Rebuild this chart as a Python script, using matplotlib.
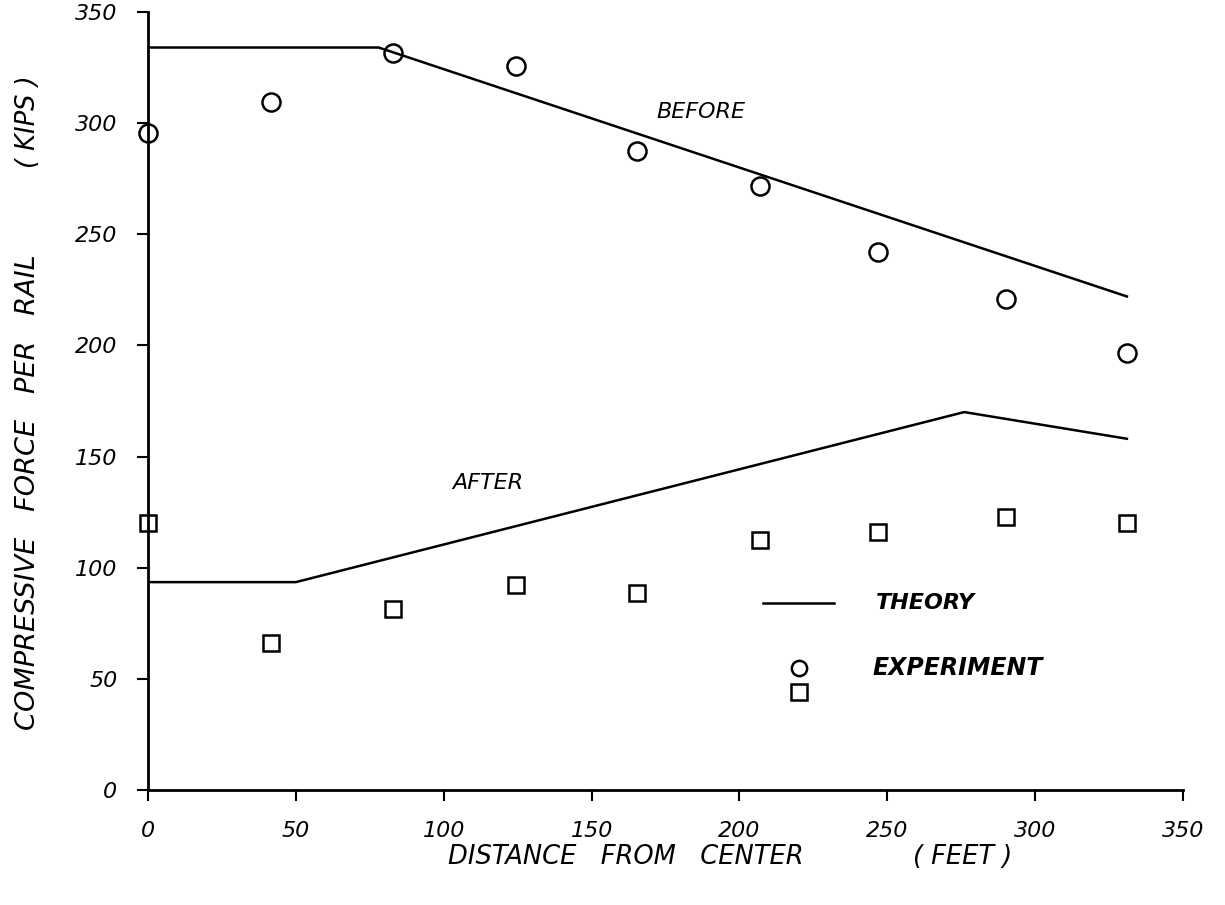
import matplotlib
matplotlib.use("Agg")
import matplotlib.pyplot as plt

# theory curves (kips vs feet from center)
before_theory_x = [0, 78, 331]
before_theory_y = [334, 334, 222]
after_theory_x = [0, 50, 276, 331]
after_theory_y = [93.5, 93.5, 170, 158]

# measured values
exp_x = [0, 41.5, 83, 124.5, 165.5, 207, 247, 290, 331]
before_exp = [295.5, 309.5, 331.5, 325.5, 287.5, 271.5, 242, 221, 196.5]
after_exp = [120, 66, 81.5, 92, 88.5, 112.5, 116, 123, 120]

x_ticks = [0, 50, 100, 150, 200, 250, 300, 350]
y_ticks = [0, 50, 100, 150, 200, 250, 300, 350]

plt.rcParams['font.family'] = ['DejaVu Sans']
font = dict(fontsize=16, fontstyle='italic', color='black')
big = dict(fontsize=18.5, fontstyle='italic', color='black')

fig = plt.figure(figsize=(12.25, 9.05), dpi=100)
ax = fig.add_axes([0.1208, 0.1271, 0.845, 0.8597])

ax.plot(before_theory_x, before_theory_y, color='black', lw=1.8)
ax.plot(after_theory_x, after_theory_y, color='black', lw=1.8)
ax.plot(exp_x, before_exp, 'o', ms=13, mfc='none', mec='black', mew=1.8,
        clip_on=False)
ax.plot(exp_x, after_exp, 's', ms=12, mfc='none', mec='black', mew=1.8,
        clip_on=False)

ax.set_xlim(0, 350)
ax.set_ylim(0, 350)
for side in ['top', 'right']:
    ax.spines[side].set_visible(False)
for side in ['left', 'bottom']:
    ax.spines[side].set_linewidth(2)
ax.set_xticks(x_ticks)
ax.set_yticks(y_ticks)
ax.set_xticklabels([str(v) for v in x_ticks], **font)
ax.set_yticklabels([str(v) for v in y_ticks], **font)
ax.tick_params(axis='both', direction='out', length=8, width=1.5)
ax.tick_params(axis='x', pad=14)
ax.tick_params(axis='y', pad=14)

# curve labels
ax.text(187, 305, 'BEFORE', ha='center', va='center', **font)
ax.text(115, 138, 'AFTER', ha='center', va='center', **font)

# hand drawn key
ax.plot([208, 232], [84, 84], color='black', lw=1.8)
ax.text(246, 84, 'THEORY', ha='left', va='center', fontweight='bold',
        **font)
ax.plot([220], [55], 'o', ms=11, mfc='none', mec='black', mew=1.8)
ax.plot([220], [44], 's', ms=11, mfc='none', mec='black', mew=1.8)
ax.text(245, 55, 'EXPERIMENT', ha='left', va='center', fontweight='bold',
        fontsize=17, fontstyle='italic', color='black')

# axis titles
fig.text(0.023, 0.456, 'COMPRESSIVE   FORCE   PER   RAIL', rotation=90,
         ha='center', va='center', fontsize=19.5, fontstyle='italic',
         color='black')
fig.text(0.023, 0.865, '( KIPS )', rotation=90, ha='center', va='center',
         **big)
fig.text(0.511, 0.053, 'DISTANCE   FROM   CENTER', ha='center', va='center',
         **big)
fig.text(0.786, 0.053, '( FEET )', ha='center', va='center', **big)

fig.savefig('out.png', dpi=100)
